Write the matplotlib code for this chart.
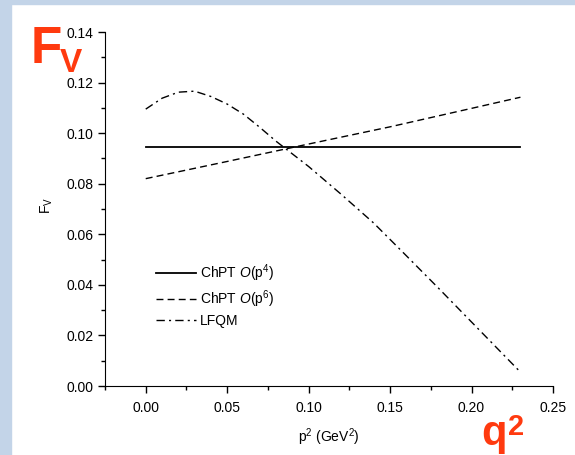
import numpy as np
import matplotlib.pyplot as plt
from matplotlib.patches import Rectangle
from matplotlib.ticker import MultipleLocator

plt.rcParams['font.family'] = ['Liberation Sans', 'DejaVu Sans']
plt.rcParams['mathtext.fontset'] = 'custom'
plt.rcParams['mathtext.rm'] = 'Liberation Sans'
plt.rcParams['mathtext.it'] = 'Liberation Sans:italic'

# data
p2_flat = [0.0, 0.23]
fv_chpt4 = [0.0945, 0.0945]

p2_chpt6 = [0.0, 0.05, 0.10, 0.15, 0.20, 0.23]
fv_chpt6 = [0.082, 0.0888, 0.0957, 0.1025, 0.1098, 0.1142]

p2_lfqm = [0.0, 0.01, 0.02, 0.03, 0.04, 0.05, 0.06, 0.07, 0.08, 0.09,
           0.10, 0.12, 0.14, 0.16, 0.18, 0.20, 0.23]
fv_lfqm = [0.1095, 0.1138, 0.1162, 0.1166, 0.1145, 0.1115, 0.1075, 0.1023, 0.0968, 0.0918,
           0.0868, 0.0758, 0.0644, 0.0515, 0.0385, 0.0253, 0.0055]

fig = plt.figure(figsize=(5.75, 4.55), dpi=100)

# slide background strips
fig.patches.append(Rectangle((0, 0), 11/575, 1, transform=fig.transFigure,
                             color='#c3d4e8', zorder=0))
fig.patches.append(Rectangle((0, 1 - 4/455), 1, 4/455, transform=fig.transFigure,
                             color='#c3d4e8', zorder=0))

ax = fig.add_axes([105/575, 1 - 386/455, 448/575, 354/455])
ax.plot(p2_flat, fv_chpt4, color='black', lw=1.3, label=r'ChPT $\mathit{O}$(p$^4$)')
ax.plot(p2_chpt6, fv_chpt6, color='black', lw=1.0, linestyle=(0, (5, 3)),
        label=r'ChPT $\mathit{O}$(p$^6$)')
ax.plot(p2_lfqm, fv_lfqm, color='black', lw=1.0, linestyle=(0, (6, 3, 1.5, 3)),
        label='LFQM')

ax.set_xlim(-0.025, 0.25)
ax.set_ylim(0, 0.14)
ax.xaxis.set_major_locator(MultipleLocator(0.05))
ax.xaxis.set_minor_locator(MultipleLocator(0.025))
ax.yaxis.set_major_locator(MultipleLocator(0.02))
ax.yaxis.set_minor_locator(MultipleLocator(0.01))
ax.xaxis.set_major_formatter(lambda v, pos: '%.2f' % v)
ax.yaxis.set_major_formatter(lambda v, pos: '%.2f' % v)
ax.spines['top'].set_visible(False)
ax.spines['right'].set_visible(False)
ax.tick_params(which='both', direction='out', labelsize=10, width=1)
ax.tick_params(which='major', length=5)
ax.tick_params(which='minor', length=3)
ax.tick_params(axis='x', pad=6)

ax.set_xlabel(r'p$^2$ (GeV$^2$)', fontsize=10, labelpad=8)
fig.text(47/575, 1 - 205/455, r'F$_\mathrm{V}$', rotation=90, fontsize=10,
         ha='center', va='center')

ax.legend(loc='upper left', bbox_to_anchor=(0.085, 0.385), frameon=False,
          fontsize=10, handlelength=2.9, handletextpad=0.3, labelspacing=0.3)

# red annotations from the slide
red = '#ff3a0f'
fig.text(31/575, 1 - 63/455, 'F', color=red, fontsize=37, fontweight='bold')
fig.text(60/575, 1 - 72/455, 'V', color=red, fontsize=24, fontweight='bold')
fig.text(481/575, 1 - 445/455, 'q', color=red, fontsize=30, fontweight='bold',
         va='baseline')
fig.text(508/575, 1 - 435/455, '2', color=red, fontsize=21, fontweight='bold',
         va='baseline')

fig.savefig('out.png', dpi=100)
